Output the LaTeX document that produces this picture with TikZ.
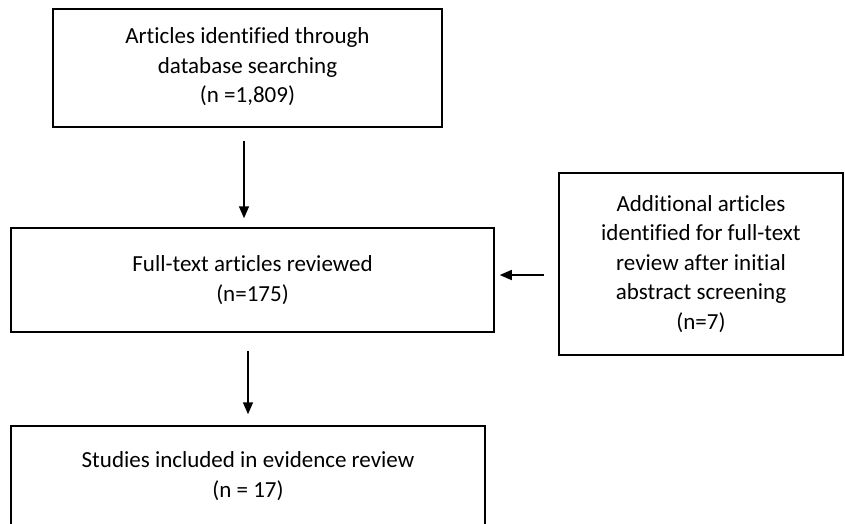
\documentclass[tikz,border=0pt]{standalone}
\usepackage{fontspec}
\setmainfont{Carlito}[Ligatures=NoCommon]
\usetikzlibrary{arrows.meta}

\begin{document}
\begin{tikzpicture}[x=1pt,y=-1pt,
    flowbox/.style={draw,line width=1.5pt,align=center,inner sep=0pt,
        font=\fontsize{23pt}{29.5pt}\selectfont},
    flowarrow/.style={-{Triangle[length=12pt,width=10pt]},line width=1.6pt}]
    \useasboundingbox (0,0) rectangle (845,523);
    \clip (0,0) rectangle (845,523);
    % boxes
    \node[flowbox,minimum width=389pt,minimum height=118pt] (search) at (247.5,68)
        {Articles identified through\\database searching\\(n =1,809)\\[-24pt]};
    \node[flowbox,minimum width=483pt,minimum height=104pt] (fulltext) at (252.5,280)
        {Full-text articles reviewed\\(n=175)};
    \node[flowbox,minimum width=284pt,minimum height=182pt] (additional) at (701,264)
        {Additional articles\\identified for full-text\\review after initial\\abstract screening\\(n=7)};
    \node[flowbox,minimum width=474pt,minimum height=100pt] (included) at (248,476)
        {Studies included in evidence review\\(n = 17)};
    % arrows
    \coordinate (a1) at (244,141);
    \coordinate (a2) at (248,351);
    \coordinate (a3) at (544,275);
    \draw[flowarrow] (a1) -- ([yshift=9pt]a1 |- fulltext.north);
    \draw[flowarrow] (a2) -- ([yshift=11pt]a2 |- included.north);
    \draw[flowarrow] (a3) -- ([xshift=5pt]fulltext.east |- a3);
\end{tikzpicture}
\end{document}
